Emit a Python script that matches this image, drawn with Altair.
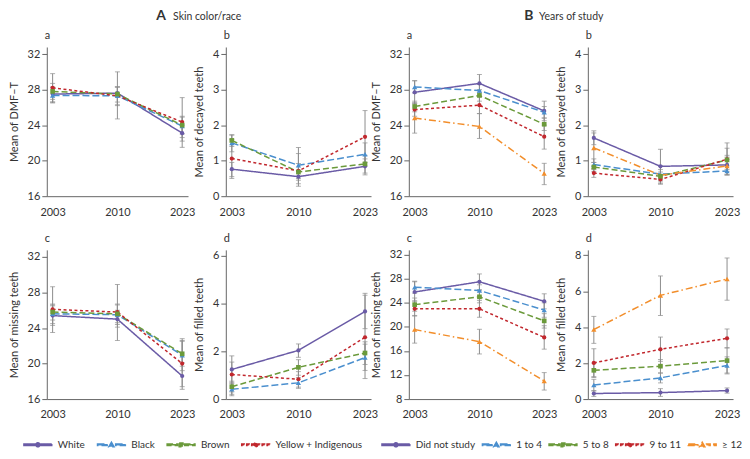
import altair as alt
import pandas as pd

FONT = "Lato"
TEXT = "#333333"
AXIS = "#666666"
EB = "#8c8c8c"

years = ["2003", "2010", "2023"]

# ---------------- A: Skin color/race ----------------
race_groups = ["White", "Black", "Brown", "Yellow + Indigenous"]
race_colors = ["#6a5ba6", "#4a8fce", "#6b9a3b", "#c1272d"]
race_dashes = [[1, 0], [7, 3], [6, 3], [3, 2.5]]
race_shapes = ["circle", "triangle-up", "square", "circle"]

a_dmft_mean = [[27.5, 27.6, 23.1], [27.35, 27.3, 23.9], [27.8, 27.5, 24.0], [28.2, 27.3, 24.35]]
a_dmft_lo = [[26.6, 26.2, 22.2], [26.5, 26.3, 22.6], [26.9, 26.6, 23.0], [26.6, 24.7, 21.5]]
a_dmft_hi = [[28.3, 28.3, 24.0], [28.2, 28.3, 25.0], [28.7, 28.3, 24.9], [29.8, 30.0, 27.1]]

a_dec_mean = [[0.76, 0.55, 0.84], [1.50, 0.87, 1.18], [1.57, 0.68, 0.91], [1.06, 0.71, 1.67]]
a_dec_lo = [[0.55, 0.35, 0.6], [1.25, 0.5, 0.85], [1.4, 0.45, 0.65], [0.5, 0.28, 0.95]]
a_dec_hi = [[0.95, 0.72, 1.05], [1.72, 1.2, 1.5], [1.73, 0.92, 1.15], [1.6, 1.37, 2.41]]

a_mis_mean = [[25.4, 25.0, 18.6], [25.6, 25.5, 20.95], [25.8, 25.6, 21.1], [26.1, 25.8, 20.0]]
a_mis_lo = [[24.3, 24.1, 17.1], [24.5, 24.4, 19.2], [24.9, 24.6, 19.7], [23.5, 22.6, 17.4]]
a_mis_hi = [[26.5, 26.0, 20.1], [26.7, 26.7, 22.6], [26.6, 26.6, 22.5], [28.65, 28.9, 22.8]]

a_fil_mean = [[1.24, 2.04, 3.67], [0.41, 0.68, 1.74], [0.52, 1.33, 1.93], [1.03, 0.83, 2.59]]
a_fil_lo = [[0.7, 1.75, 2.95], [0.2, 0.45, 1.2], [0.3, 1.0, 1.45], [0.14, 0.5, 0.86]]
a_fil_hi = [[1.81, 2.31, 4.43], [0.65, 0.9, 2.3], [0.75, 1.65, 2.4], [1.55, 1.15, 4.35]]

# ---------------- B: Years of study ----------------
edu_groups = ["Did not study", "1 to 4", "5 to 8", "9 to 11", "≥ 12"]
edu_colors = ["#6a5ba6", "#4a8fce", "#6b9a3b", "#c1272d", "#f28e2b"]
edu_dashes = [[1, 0], [7, 3], [6, 3], [3, 2.5], [7, 3, 1.5, 3]]
edu_shapes = ["circle", "triangle-up", "square", "circle", "triangle-up"]

b_dmft_mean = [[27.7, 28.7, 25.6], [28.3, 27.9, 25.45], [26.1, 27.35, 24.1], [25.75, 26.25, 22.7], [24.8, 23.85, 18.55]]
b_dmft_lo = [[26.4, 27.7, 24.5], [27.6, 27.2, 24.8], [25.5, 26.7, 23.4], [25.0, 25.3, 21.3], [23.1, 22.5, 17.3]]
b_dmft_hi = [[29.0, 29.7, 26.7], [29.0, 28.6, 26.1], [26.7, 28.0, 24.8], [26.5, 27.2, 24.0], [26.5, 25.3, 19.7]]

b_dec_mean = [[1.64, 0.84, 0.88], [0.89, 0.62, 0.71], [0.82, 0.56, 1.02], [0.65, 0.47, 1.04], [1.36, 0.59, 0.85]]
b_dec_lo = [[1.45, 0.4, 0.6], [0.75, 0.5, 0.6], [0.7, 0.45, 0.75], [0.53, 0.34, 0.7], [0.95, 0.35, 0.6]]
b_dec_hi = [[1.84, 1.32, 1.15], [1.05, 0.75, 0.85], [0.95, 0.68, 1.35], [0.78, 0.6, 1.5], [1.78, 0.85, 1.1]]

b_mis_mean = [[25.8, 27.5, 24.25], [26.6, 26.05, 22.8], [23.7, 25.0, 21.0], [23.0, 23.0, 18.25], [19.55, 17.55, 11.0]]
b_mis_lo = [[24.3, 26.2, 23.0], [25.6, 25.1, 21.6], [22.6, 24.0, 19.8], [21.8, 21.6, 16.3], [17.3, 15.5, 9.5]]
b_mis_hi = [[27.5, 28.8, 25.5], [27.6, 27.0, 24.0], [24.8, 26.0, 22.2], [24.3, 24.4, 20.2], [21.9, 19.6, 12.4]]

b_fil_mean = [[0.31, 0.36, 0.47], [0.78, 1.18, 1.87], [1.6, 1.83, 2.14], [2.01, 2.77, 3.38], [3.87, 5.77, 6.68]]
b_fil_lo = [[0.15, 0.15, 0.33], [0.45, 0.9, 1.4], [1.25, 1.45, 1.45], [1.2, 2.1, 2.85], [3.1, 4.65, 5.5]]
b_fil_hi = [[0.47, 0.58, 0.62], [1.1, 1.45, 2.35], [2.0, 2.2, 2.85], [2.8, 3.45, 3.9], [4.6, 6.85, 7.85]]

W1, W2, H = 142, 146, 150
COLSP, ROWSP = 38, 54


def make_df(groups, data):
    rows = []
    for m, (means, los, his) in data.items():
        for gi, g in enumerate(groups):
            for yi, yr in enumerate(years):
                rows.append(dict(measure=m, group=g, year=yr,
                                 mean=means[gi][yi], lo=los[gi][yi], hi=his[gi][yi]))
    return pd.DataFrame(rows)


dfA = make_df(race_groups, {
    "dmft": (a_dmft_mean, a_dmft_lo, a_dmft_hi),
    "dec": (a_dec_mean, a_dec_lo, a_dec_hi),
    "mis": (a_mis_mean, a_mis_lo, a_mis_hi),
    "fil": (a_fil_mean, a_fil_lo, a_fil_hi),
})
dfB = make_df(edu_groups, {
    "dmft": (b_dmft_mean, b_dmft_lo, b_dmft_hi),
    "dec": (b_dec_mean, b_dec_lo, b_dec_hi),
    "mis": (b_mis_mean, b_mis_lo, b_mis_hi),
    "fil": (b_fil_mean, b_fil_lo, b_fil_hi),
})


def rect(x0, x1, t=0.15):
    return f"M{x0},{-t}H{x1}V{t}H{x0}Z"


MARK = {
    "circle": "M0.4,0A0.4,0.4 0 1,1 -0.4,0A0.4,0.4 0 1,1 0.4,0Z",
    "triangle-up": "M0,-0.5L0.52,0.38L-0.52,0.38Z",
    "square": "M-0.38,-0.38H0.38V0.38H-0.38Z",
}
LINESEG = {
    "solid": [(-2.8, 2.8)],
    "long": [(-2.8, -0.85), (0.85, 2.8)],
    "dash": [(-2.8, -0.7), (0.7, 2.8)],
    "short": [(-2.8, -2.3), (-1.8, -1.3), (-0.8, 0.8), (1.3, 1.8), (2.3, 2.8)],
    "dashdot": [(-2.8, -0.85), (0.85, 1.6), (2.2, 2.8)],
}


def legend_path(style, shape):
    return "".join(rect(a, b) for a, b in LINESEG[style]) + MARK[shape]


race_leg_paths = [legend_path(s, m) for s, m in zip(["solid", "long", "dash", "short"], race_shapes)]
edu_leg_paths = [legend_path(s, m) for s, m in zip(["solid", "long", "dash", "short", "dashdot"], edu_shapes)]

PSIZE = {"circle": 18, "triangle-up": 28, "square": 22}


def txt(s, x, y, size=11, weight="normal"):
    return alt.Chart(pd.DataFrame({"t": [s]})).mark_text(
        align="left", baseline="alphabetic", fontSize=size, fontWeight=weight,
        font=FONT, color=TEXT).encode(x=alt.value(x), y=alt.value(y), text="t:N")


def panel(df, measure, ytitle, domain, ticks, letter, groups, colors, dashes, shapes,
          width, legend=None, leg_paths=None, header=None):
    base = alt.Chart(df).transform_filter(alt.datum.measure == measure)
    x = alt.X("year:O", title=None, sort=years,
              scale=alt.Scale(type="point", padding=0.09))

    def y(field):
        return alt.Y(f"{field}:Q", title=ytitle,
                     scale=alt.Scale(domain=domain, nice=False, zero=False),
                     axis=alt.Axis(values=ticks))

    col = alt.Color("group:N", scale=alt.Scale(domain=groups, range=colors), legend=None)
    layers = []
    if legend is not None:
        # legend-only layer (no rows): its colour + shape give the merged legend
        layers.append(base.transform_filter(alt.datum.year == "none").mark_point(
            filled=True, opacity=1).encode(
            x=x, y=y("mean"),
            color=alt.Color("group:N", scale=alt.Scale(domain=groups, range=colors), legend=legend),
            shape=alt.Shape("group:N", scale=alt.Scale(domain=groups, range=leg_paths), legend=legend)))
    layers += [
        base.mark_rule(color=EB, strokeWidth=1).encode(x=x, y=y("lo"), y2="hi:Q"),
        base.transform_fold(["lo", "hi"], as_=["bound", "val"]).mark_tick(
            color=EB, size=5, thickness=1).encode(x=x, y=y("val")),
        base.mark_line(strokeWidth=1.5).encode(
            x=x, y=y("mean"), color=col,
            strokeDash=alt.StrokeDash("group:N", scale=alt.Scale(domain=groups, range=dashes), legend=None)),
    ]
    seen = []
    for s in shapes:
        if s not in seen:
            seen.append(s)
    for s in seen:
        gs = [g for g, sh in zip(groups, shapes) if sh == s]
        layers.append(base.transform_filter(alt.FieldOneOfPredicate(field="group", oneOf=gs))
                      .mark_point(shape=s, filled=True, size=PSIZE[s], opacity=1)
                      .encode(x=x, y=y("mean"), color=col))
    layers.append(txt(letter, -2, -8))
    if header is not None:
        big, small, xb, xs = header
        layers.append(txt(big, xb, -27, size=14, weight="bold"))
        layers.append(txt(small, xs, -27, size=10.5))
    return alt.layer(*layers).properties(width=width, height=H)


def make_legend(lx, ly, cpad):
    return alt.Legend(title=None, orient="none", legendX=lx, legendY=ly, direction="horizontal",
                      symbolSize=100, labelOffset=14, columnPadding=cpad, padding=0,
                      labelFontSize=10, labelFont=FONT, labelColor=TEXT)


LY = H + 40

pA_a = panel(dfA, "dmft", "Mean of DMF–T", [16, 32.8], [16, 20, 24, 28, 32], "a",
             race_groups, race_colors, race_dashes, race_shapes, W1,
             header=("A", "Skin color/race", 110, 127))
pA_b = panel(dfA, "dec", "Mean of decayed teeth", [0, 4.2], [0, 1, 2, 3, 4], "b",
             race_groups, race_colors, race_dashes, race_shapes, W2)
pA_c = panel(dfA, "mis", "Mean of missing teeth", [16, 32.8], [16, 20, 24, 28, 32], "c",
             race_groups, race_colors, race_dashes, race_shapes, W1,
             legend=make_legend(-15, LY, 9), leg_paths=race_leg_paths)
pA_d = panel(dfA, "fil", "Mean of filled teeth", [0, 6.25], [0, 2, 4, 6], "d",
             race_groups, race_colors, race_dashes, race_shapes, W2)

pB_a = panel(dfB, "dmft", "Mean of DMF–T", [16, 32.8], [16, 20, 24, 28, 32], "a",
             edu_groups, edu_colors, edu_dashes, edu_shapes, W1,
             header=("B", "Years of study", 116, 131))
pB_b = panel(dfB, "dec", "Mean of decayed teeth", [0, 4.2], [0, 1, 2, 3, 4], "b",
             edu_groups, edu_colors, edu_dashes, edu_shapes, W2)
pB_c = panel(dfB, "mis", "Mean of missing teeth", [8, 32.8], [8, 12, 16, 20, 24, 28, 32], "c",
             edu_groups, edu_colors, edu_dashes, edu_shapes, W1,
             legend=make_legend(-19, LY, 4), leg_paths=edu_leg_paths)
pB_d = panel(dfB, "fil", "Mean of filled teeth", [0, 8.3], [0, 2, 4, 6, 8], "d",
             edu_groups, edu_colors, edu_dashes, edu_shapes, W2)

chart = alt.concat(
    pA_a, pA_b, pB_a, pB_b, pA_c, pA_d, pB_c, pB_d,
    columns=4, spacing={"row": ROWSP, "column": COLSP}, bounds="flush"
).resolve_scale(
    color="independent", shape="independent", strokeDash="independent"
).resolve_legend(
    color="independent", shape="independent"
).properties(padding=0).configure_view(
    stroke=None
).configure_axis(
    labelFont=FONT, titleFont=FONT, labelFontSize=11, titleFontSize=11,
    titleFontWeight="normal", labelColor=TEXT, titleColor=TEXT,
    domainColor=AXIS, tickColor=AXIS, grid=False,
).configure_axisY(tickSize=5, labelPadding=2, titlePadding=8).configure_axisX(
    ticks=False, labelPadding=10, labelAngle=0
)

chart.save("out.html", embed_options={"renderer": "svg", "actions": False})
